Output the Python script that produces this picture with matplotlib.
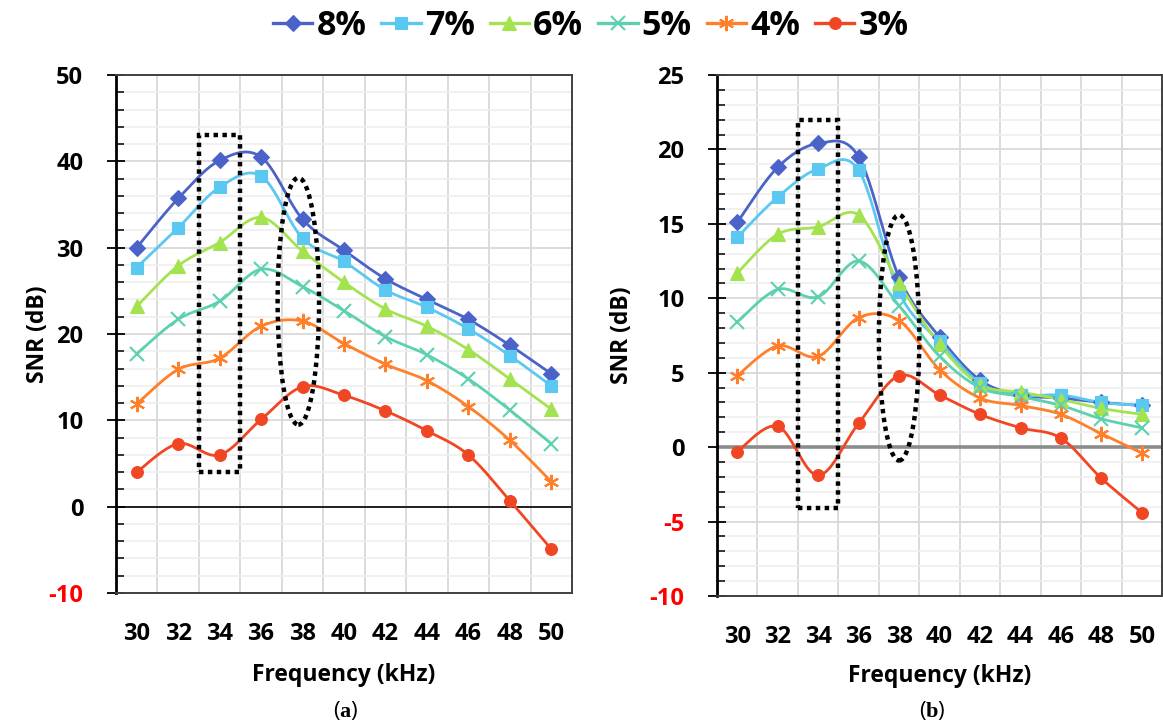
import numpy as np
import matplotlib
matplotlib.use("Agg")
import matplotlib.pyplot as plt
from matplotlib.patches import Rectangle, Ellipse
from matplotlib.lines import Line2D

# ---- data -------------------------------------------------------------
freqs = [30, 32, 34, 36, 38, 40, 42, 44, 46, 48, 50]
series_labels = ["8%", "7%", "6%", "5%", "4%", "3%"]

snr_a_8 = [30.0, 35.7, 40.1, 40.5, 33.3, 29.7, 26.4, 24.0, 21.7, 18.7, 15.4]
snr_a_7 = [27.7, 32.3, 37.0, 38.3, 31.1, 28.4, 25.1, 23.1, 20.6, 17.5, 14.0]
snr_a_6 = [23.2, 27.9, 30.6, 33.5, 29.6, 26.0, 22.9, 20.9, 18.2, 14.8, 11.3]
snr_a_5 = [17.7, 21.7, 23.8, 27.5, 25.5, 22.7, 19.7, 17.6, 14.8, 11.2, 7.3]
snr_a_4 = [11.9, 15.9, 17.2, 20.9, 21.5, 18.9, 16.5, 14.6, 11.6, 7.7, 2.9]
snr_a_3 = [4.0, 7.3, 6.0, 10.1, 13.9, 12.9, 11.1, 8.8, 6.0, 0.7, -4.9]

snr_b_8 = [15.1, 18.8, 20.4, 19.5, 11.4, 7.4, 4.5, 3.5, 3.3, 3.0, 2.8]
snr_b_7 = [14.1, 16.8, 18.7, 18.6, 10.4, 7.1, 4.3, 3.5, 3.5, 3.0, 2.8]
snr_b_6 = [11.7, 14.3, 14.8, 15.6, 11.0, 6.9, 4.2, 3.7, 3.2, 2.6, 2.2]
snr_b_5 = [8.4, 10.6, 10.1, 12.5, 9.5, 6.1, 4.0, 3.4, 2.8, 1.9, 1.3]
snr_b_4 = [4.8, 6.8, 6.1, 8.7, 8.5, 5.2, 3.3, 2.8, 2.2, 0.9, -0.4]
snr_b_3 = [-0.3, 1.4, -1.9, 1.6, 4.8, 3.5, 2.2, 1.3, 0.6, -2.1, -4.4]

yticks_a = [-10, 0, 10, 20, 30, 40, 50]
yticks_b = [-10, -5, 0, 5, 10, 15, 20, 25]

# ---- styles -----------------------------------------------------------
colors = ["#4B63C9", "#5AC8F0", "#A4E350", "#5CD0B0", "#FF7F2A", "#F04623"]
markers = ["D", "s", "^", "x", (6, 2, 0), "o"]
msizes = [8.5, 8.5, 9.5, 9.5, 11, 8.5]

SANS = "Open Sans"
NARROW = ["Liberation Sans Narrow", "Open Sans"]
plt.rcParams["font.family"] = [SANS, "DejaVu Sans"]
plt.rcParams["mathtext.fontset"] = "custom"
plt.rcParams["mathtext.rm"] = "Liberation Serif"
plt.rcParams["mathtext.bf"] = "Liberation Serif:bold"

TICK_FS = 17
LABEL_FS = 16.5


def smooth(xs, ys, n=24):
    """Excel-style smoothed line: cubic Bezier through the points with
    Catmull-Rom control points."""
    pts = np.column_stack([xs, ys]).astype(float)
    P = np.vstack([pts[0], pts, pts[-1]])
    t = np.linspace(0, 1, n)[:, None]
    out = []
    for i in range(len(pts) - 1):
        p0, p1, p2, p3 = P[i], P[i + 1], P[i + 2], P[i + 3]
        c1 = p1 + (p2 - p0) / 6.0
        c2 = p2 - (p3 - p1) / 6.0
        seg = ((1 - t) ** 3) * p1 + 3 * ((1 - t) ** 2) * t * c1 \
            + 3 * (1 - t) * (t ** 2) * c2 + (t ** 3) * p2
        out.append(seg if i == 0 else seg[1:])
    return np.vstack(out)


def marker_kw(c, m, ms):
    return dict(marker=m, ms=ms, color=c, mec=c,
                mew=1.5 if m in ("x", (6, 2, 0)) else 0.8)


def draw_panel(ax, data, yticks, ylim, minor_step, zero_color, zero_lw,
               ylabel_x, xlabel_y):
    idx = np.arange(len(freqs))
    for vals, c, m, ms in zip(data, colors, markers, msizes):
        curve = smooth(idx, vals)
        ax.plot(curve[:, 0], curve[:, 1], color=c, lw=2.0, zorder=3,
                solid_capstyle="round")
        ax.plot(idx, vals, ls="none", zorder=4, **marker_kw(c, m, ms))

    ax.set_xlim(-0.5, len(freqs) - 0.5)
    ax.set_ylim(*ylim)
    ax.set_xticks(idx)
    ax.set_xticklabels([str(f) for f in freqs], fontsize=TICK_FS,
                       fontweight="bold")
    ax.set_xticks(np.arange(len(freqs) - 1) + 0.5, minor=True)
    ax.tick_params(axis="x", which="both", length=0, pad=21)

    ax.set_yticks(yticks)
    ax.set_yticklabels([str(v) for v in yticks], fontsize=TICK_FS,
                       fontweight="bold")
    for lab, v in zip(ax.get_yticklabels(), yticks):
        if v < 0:
            lab.set_color("#FF0000")
    ax.set_yticks(np.arange(ylim[0], ylim[1] + 0.01, minor_step), minor=True)
    ax.tick_params(axis="y", which="major", direction="inout", length=13,
                   width=1.3, pad=17)
    ax.tick_params(axis="y", which="minor", direction="in", length=6,
                   width=1.1)

    ax.grid(which="major", axis="y", color="#d9d9d9", lw=1.3, zorder=0)
    ax.grid(which="minor", axis="y", color="#efefef", lw=1.2, zorder=0)
    ax.grid(which="minor", axis="x", color="#d9d9d9", lw=1.3, zorder=0)
    ax.grid(which="major", axis="x", visible=False)
    ax.set_axisbelow(True)

    ax.axhline(0, color=zero_color, lw=zero_lw, zorder=2)

    for s in ("top", "right", "bottom"):
        ax.spines[s].set_color("#404040")
        ax.spines[s].set_linewidth(1.4)
    ax.spines["left"].set_color("black")
    ax.spines["left"].set_linewidth(2.0)

    ax.set_ylabel("SNR (dB)", fontsize=LABEL_FS, fontweight="bold")
    ax.yaxis.set_label_coords(ylabel_x, 0.5)
    ax.set_xlabel("Frequency (kHz)", fontsize=LABEL_FS, fontweight="bold")
    ax.xaxis.set_label_coords(0.5, xlabel_y)


fig = plt.figure(figsize=(11.63, 7.24), dpi=100)
ax_a = fig.add_axes([0.0997, 0.1809, 0.3921, 0.7155])
ax_b = fig.add_axes([0.6165, 0.1768, 0.3828, 0.7196])

data_a = [snr_a_8, snr_a_7, snr_a_6, snr_a_5, snr_a_4, snr_a_3]
data_b = [snr_b_8, snr_b_7, snr_b_6, snr_b_5, snr_b_4, snr_b_3]

draw_panel(ax_a, data_a, yticks_a, (-10, 50), 2, "black", 1.2,
           -0.145, -0.136)
draw_panel(ax_b, data_b, yticks_b, (-10, 25), 1, "#8c8c8c", 2.6,
           -0.186, -0.131)

# dotted highlight regions
dot = dict(fill=False, ec="black", lw=3.2, ls=(0, (1, 1)), zorder=5,
           capstyle="butt")
ax_a.add_patch(Rectangle((1.5, 4.0), 1.0, 39.1, **dot))
ax_a.add_patch(Ellipse((3.9, 23.8), 1.0, 28.6, **dot))
ax_b.add_patch(Rectangle((1.5, -4.1), 1.0, 26.1, **dot))
ax_b.add_patch(Ellipse((4.0, 7.35), 1.0, 16.5, **dot))

# legend
handles = [Line2D([], [], lw=2.4, **marker_kw(c, m, ms))
           for c, m, ms in zip(colors, markers, msizes)]
fig.legend(handles, series_labels, loc="upper center", ncol=6,
           bbox_to_anchor=(0.508, 1.03), frameon=False,
           prop=dict(family=NARROW, weight="bold", size=24.5),
           handlelength=1.15, handletextpad=0.12, columnspacing=0.45)

# panel captions
fig.text(0.2975, 0.018, r"($\mathbf{a}$)", ha="center", va="center",
         fontsize=16)
fig.text(0.8014, 0.018, r"($\mathbf{b}$)", ha="center", va="center",
         fontsize=16)

fig.savefig("out.png", dpi=100)
